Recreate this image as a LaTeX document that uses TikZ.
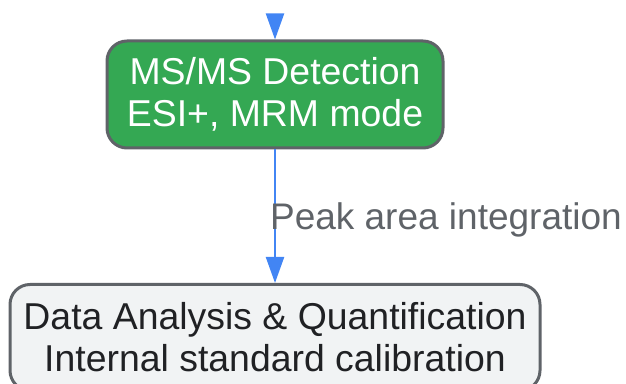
\documentclass[tikz,border=0pt]{standalone}
\usepackage{fontspec}
\setmainfont{Liberation Sans}
\usetikzlibrary{arrows.meta}
\definecolor{msgreen}{RGB}{52,168,83}
\definecolor{edgegray}{RGB}{95,99,104}
\definecolor{flowblue}{RGB}{66,133,244}
\definecolor{boxfill}{RGB}{241,243,244}
\definecolor{darktext}{RGB}{32,33,36}
\tikzset{
  stage/.style={draw=edgegray, line width=1.5pt, rounded corners=10pt, align=center,
    font=\fontsize{18.7}{21}\selectfont, inner sep=0pt},
  flow/.style={draw=flowblue, line width=1.1pt, -{Triangle[length=13pt, width=9pt]}},
}
\begin{document}
\begin{tikzpicture}[x=0.5pt, y=-0.5pt]
			%%%%% START %%%%%
			\useasboundingbox (0, 0) rectangle (626, 384);
			
			\node[stage, fill=msgreen, text=white, minimum width=168pt, minimum height=53.5pt] (detect) at (275, 94.5) {MS/MS Detection\\ESI+, MRM mode};
			\node[stage, fill=boxfill, text=darktext, minimum width=265pt, minimum height=53pt] (quant) at (275, 337.5) {Data Analysis \& Quantification\\Internal standard calibration};
			
			\coordinate (inflow) at (275, 14);
			\draw[flow] (inflow) -- (detect);
			\draw[flow] (detect) -- node[midway, anchor=west, xshift=-3pt, yshift=-2pt, text=edgegray, font=\fontsize{18.5}{21}\selectfont, inner sep=0pt] (peak) {Peak area integration} (quant);
			
			%%%%% END %%%%%
\end{tikzpicture}
\end{document}
